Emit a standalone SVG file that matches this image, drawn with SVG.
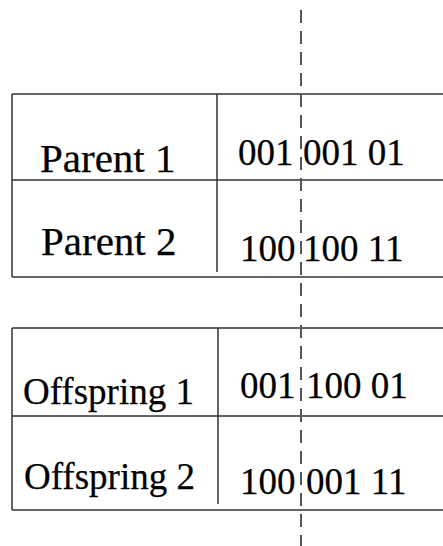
<svg xmlns="http://www.w3.org/2000/svg" width="443" height="546" viewBox="0 0 443 546">
  <style>
    .rule { stroke: #333; stroke-width: 1.5; fill: none; }
    .cut { stroke: #555; stroke-width: 2; stroke-dasharray: 13 8; fill: none; }
    .lbl { font-family: "Liberation Serif", "Times New Roman", serif; fill: #000; stroke: #000; stroke-width: 0.25; }
    .name { font-size: 41px; }
    .kid { font-size: 37px; }
    .bits { font-size: 37px; }
  </style>
  <rect width="443" height="546" fill="#fff"/>

  <!-- parents table -->
  <g id="parents">
    <path class="rule" d="M12 94 H443 M12 180 H443 M12 277 H443 M12 94 V277 M217 94 V272"/>
    <text class="lbl name" x="40" y="172">Parent 1</text>
    <text class="lbl bits" y="165"><tspan x="238">001</tspan><tspan x="303">001 01</tspan></text>
    <text class="lbl name" x="41" y="255">Parent 2</text>
    <text class="lbl bits" y="261"><tspan x="240">100</tspan><tspan x="303">100 11</tspan></text>
  </g>

  <!-- offspring table -->
  <g id="offspring">
    <path class="rule" d="M12 328 H443 M12 416 H443 M12 510 H443 M12 328 V510 M218 328 V504"/>
    <text class="lbl kid" x="23" y="404">Offspring 1</text>
    <text class="lbl bits" y="398"><tspan x="240">001</tspan><tspan x="306">100 01</tspan></text>
    <text class="lbl kid" x="24" y="489">Offspring 2</text>
    <text class="lbl bits" y="494"><tspan x="240">100</tspan><tspan x="306">001 11</tspan></text>
  </g>

  <!-- crossover point -->
  <g id="connectors">
    <line class="cut" x1="301" y1="10" x2="301" y2="546"/>
  </g>
</svg>
